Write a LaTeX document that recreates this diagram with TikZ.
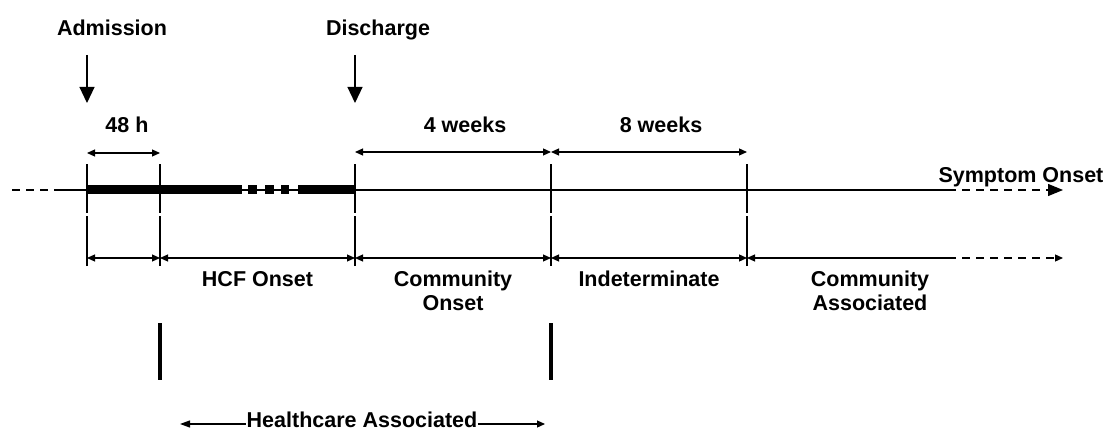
\documentclass[tikz,border=0pt]{standalone}
\usepackage{fontspec}
\setmainfont{Liberation Sans}
\usetikzlibrary{arrows.meta}

\begin{document}
\begin{tikzpicture}[x=1pt,y=-1pt,line width=1.2pt,
  lbl/.style={font=\fontsize{21.5}{24}\selectfont\bfseries,inner sep=0pt,align=center,anchor=base},
  span/.style={{Triangle[length=8pt,width=7pt]}-{Triangle[length=8pt,width=7pt]}},
  tip/.style={-{Triangle[length=8pt,width=7pt]}},
  downarrow/.style={-{Triangle[length=16pt,width=15pt]}},
  bigtip/.style={-{Triangle[length=15pt,width=12pt]}},
  longdash/.style={dash pattern=on 8pt off 6pt},
  tick/.style={line width=1.2pt},
  bartick/.style={line width=3.5pt},
  bar/.style={fill=black,draw=none}]

\useasboundingbox (0,0) rectangle (1107,430);

% ---- time points on the axis
\coordinate (a0) at (55,190);
\coordinate (aL) at (12,190);
\coordinate (t1) at (87,190);
\coordinate (t2) at (160,190);
\coordinate (t3) at (355,190);
\coordinate (t4) at (551,190);
\coordinate (t5) at (747,190);
\coordinate (aD) at (948,190);
\coordinate (aE) at (1063,190);

% ---- axis
\draw[longdash] (aL) -- (a0);
\draw (a0) -- (aD);
\draw[longdash,bigtip] (aD) -- (aE);

% thick hospital-stay bar with a break
\fill[bar] (87,185.5) rectangle (242,194.5);
\fill[bar] (248,185.5) rectangle (257,194.5);
\fill[bar] (265,185.5) rectangle (274,194.5);
\fill[bar] (281,185.5) rectangle (289,194.5);
\fill[bar] (298,185.5) rectangle (355,194.5);

% ticks on the axis
\foreach \p in {t1,t2,t3,t4,t5}
  \draw[tick] ([yshift=-23pt]\p) -- ([yshift=26pt]\p);

% ---- admission / discharge markers
\node[lbl] (adm) at (112,36) {Admission};
\node[lbl] (dis) at (378,36) {Discharge};
\coordinate (admS) at (87,55);
\coordinate (admE) at (87,103);
\coordinate (disS) at (355,55);
\coordinate (disE) at (355,103);
\draw[downarrow] (admS) -- (admE);
\draw[downarrow] (disS) -- (disE);

% ---- interval spans above the axis
\coordinate (u1) at (87,153);
\coordinate (u2) at (160,153);
\coordinate (u3) at (355,152);
\coordinate (u4) at (551,152);
\coordinate (u5) at (747,152);
\draw[span] (u1) -- (u2);
\draw[span] (u3) -- (u4);
\draw[span] (u4) -- (u5);
\node[lbl] (h48) at (127,133) {48 h};
\node[lbl] (w4) at (465,133) {4 weeks};
\node[lbl] (w8) at (661,133) {8 weeks};

\node[lbl,anchor=base east] (sym) at (1104,183) {Symptom Onset};

% ---- classification row
\coordinate (c1) at (87,258);
\coordinate (c2) at (160,258);
\coordinate (c3) at (355,258);
\coordinate (c4) at (551,258);
\coordinate (c5) at (747,258);
\coordinate (c6) at (948,258);
\coordinate (c7) at (1063,258);
\foreach \p in {c1,c2,c3,c4,c5}
  \draw[tick] ([yshift=-8pt]\p) -- ([yshift=42pt]\p);
\draw[span] (c1) -- (c2);
\draw[span] (c2) -- (c3);
\draw[span] (c3) -- (c4);
\draw[span] (c4) -- (c5);
\draw[{Triangle[length=8pt,width=7pt]}-] (c5) -- (c6);
\draw[longdash,tip] (c6) -- (c7);

\node[lbl] (hcf) at (257.5,286.5) {HCF Onset};
\node[lbl] (con) at (453,310.5) {Community\\Onset};
\node[lbl] (ind) at (649,286.5) {Indeterminate};
\node[lbl] (cas) at (870,310.5) {Community\\Associated};

% ---- healthcare associated bracket
\coordinate (b1) at (160,323);
\coordinate (b2) at (160,380);
\coordinate (b3) at (551,323);
\coordinate (b4) at (551,380);
\draw[bartick] (b1) -- (b2);
\draw[bartick] (b3) -- (b4);

\node[lbl,anchor=base] (hca) at (362,427.5) {Healthcare Associated};
\coordinate (hL) at (180,424);
\coordinate (hR) at (545,424);
\draw[{Triangle[length=10pt,width=7pt]}-] (hL) -- (hca.west |- hL);
\draw[tip] (hca.east |- hR) -- (hR);

\end{tikzpicture}
\end{document}
